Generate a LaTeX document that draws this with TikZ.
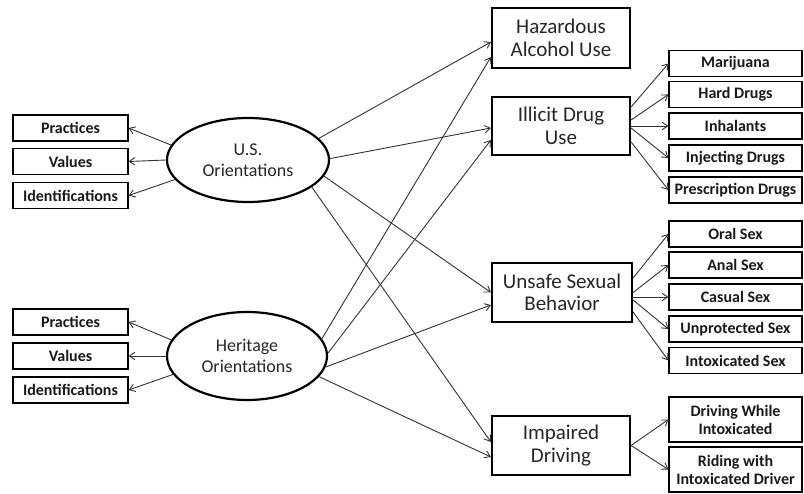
\documentclass[tikz,border=0pt]{standalone}
\usepackage{fontspec}
\setmainfont{Carlito}
\usetikzlibrary{arrows.meta,shapes.geometric}
\begin{document}
\begin{tikzpicture}[x=1pt,y=1pt,
  mainbox/.style={draw, line width=2.2pt, minimum width=138pt, minimum height=59pt, inner sep=0pt, align=center, font=\fontsize{21}{22.5}\selectfont, text=black!85},
  subbox/.style={draw, line width=1.2pt, minimum width=133pt, minimum height=26pt, inner sep=0pt, align=center, font=\fontsize{16}{18}\selectfont\bfseries, text=black!90},
  leftbox/.style={draw, line width=1.2pt, minimum width=115pt, minimum height=26pt, inner sep=0pt, font=\fontsize{16}{18}\selectfont\bfseries, text=black!90},
  latent/.style={draw, ellipse, line width=2.2pt, inner sep=0pt, align=center, font=\fontsize{18}{20.5}\selectfont, text=black!85},
  arr/.style={-{Straight Barb[length=5.5pt,width=7.5pt]}, line width=0.9pt, draw=black!80}
]
\useasboundingbox (0,0) rectangle (804,-494);

% latent variables
\node[latent, minimum width=162pt, minimum height=84pt] (us) at (248,-160) {U.S.\\Orientations};
\node[latent, minimum width=160pt, minimum height=88pt] (her) at (247,-356) {Heritage\\Orientations};

% indicators (left)
\node[leftbox] (usp) at (70.5,-128) {Practices};
\node[leftbox] (usv) at (70.5,-161.5) {Values};
\node[leftbox] (usi) at (70.5,-195.5) {Identifications};
\node[leftbox] (hp) at (70.5,-322) {Practices};
\node[leftbox] (hv) at (70.5,-356) {Values};
\node[leftbox] (hi) at (70.5,-390) {Identifications};

% outcomes
\node[mainbox, minimum height=60pt] (haz) at (561,-38) {Hazardous\\Alcohol Use};
\node[mainbox, minimum height=58pt] (ill) at (561,-126) {Illicit Drug\\Use};
\node[mainbox, minimum width=140pt] (uns) at (562,-292.5) {Unsafe Sexual\\Behavior};
\node[mainbox] (imp) at (561,-445.5) {Impaired\\Driving};

% outcome indicators
\node[subbox] (mar) at (735.5,-63.5) {Marijuana};
\node[subbox] (hard) at (735.5,-94.5) {Hard Drugs};
\node[subbox] (inh) at (735.5,-126) {Inhalants};
\node[subbox] (inj) at (735.5,-158) {Injecting Drugs};
\node[subbox] (pre) at (735.5,-190) {Prescription Drugs};

\node[subbox] (oral) at (735.5,-234) {Oral Sex};
\node[subbox] (anal) at (735.5,-265) {Anal Sex};
\node[subbox] (cas) at (735.5,-297) {Casual Sex};
\node[subbox] (unp) at (735.5,-329) {Unprotected Sex};
\node[subbox] (itx) at (735.5,-360.5) {Intoxicated Sex};

\node[subbox, minimum height=45pt] (dwi) at (735.5,-419.5) {Driving While\\Intoxicated};
\node[subbox, minimum height=45pt] (rid) at (735.5,-469.5) {Riding with\\Intoxicated Driver};

% left arrows
\draw[arr] (us.169) -- (usp.east);
\draw[arr] (us.180) -- (usv.east);
\draw[arr] (us.195) -- (usi.east);
\draw[arr] (her.168) -- (hp.east);
\draw[arr] (her.180) -- (hv.east);
\draw[arr] (her.194) -- (hi.east);

% structural paths
\draw[arr] (us.17) -- ([yshift=-4pt]haz.west);
\draw[arr] (us.1) -- ([yshift=-2pt]ill.west);
\draw[arr] (us.-12) -- (uns.west);
\draw[arr] (us.-23) -- ([yshift=3.5pt]imp.west);
\draw[arr] (her.13) -- ([yshift=-19pt]haz.west);
\draw[arr] (her.2) -- ([yshift=-14pt]ill.west);
\draw[arr] (her.-8) -- ([yshift=-12.5pt]uns.west);
\draw[arr] (her.-16) -- ([yshift=-11.5pt]imp.west);

% outcome indicator arrows
\draw[arr] ([yshift=19pt]ill.east) -- (mar.west);
\draw[arr] ([yshift=6pt]ill.east) -- (hard.west);
\draw[arr] (ill.east) -- (inh.west);
\draw[arr] ([yshift=-2pt]ill.east) -- (inj.west);
\draw[arr] ([yshift=-16pt]ill.east) -- (pre.west);

\draw[arr] ([yshift=14.5pt]uns.east) -- (oral.west);
\draw[arr] (uns.east) -- (anal.west);
\draw[arr] ([yshift=-4.5pt]uns.east) -- (cas.west);
\draw[arr] ([yshift=-7.5pt]uns.east) -- (unp.west);
\draw[arr] ([yshift=-19.5pt]uns.east) -- (itx.west);

\draw[arr] (imp.east) -- (dwi.west);
\draw[arr] (imp.east) -- (rid.west);
\end{tikzpicture}
\end{document}
